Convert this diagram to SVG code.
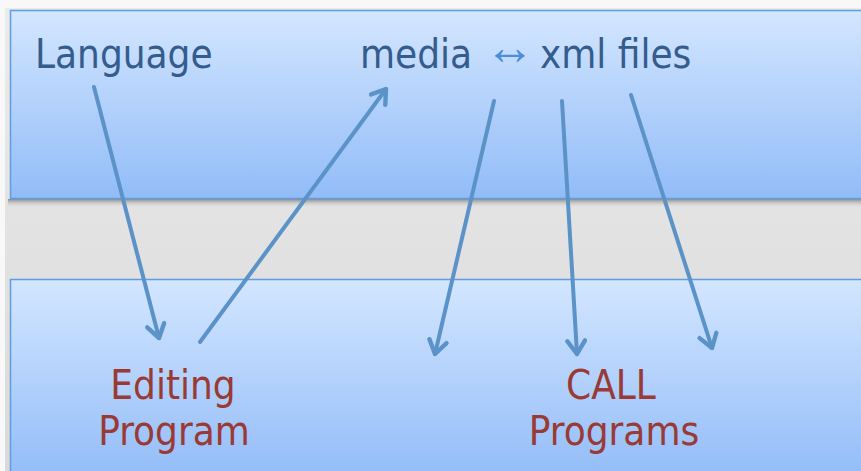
<svg xmlns="http://www.w3.org/2000/svg" width="861" height="471" viewBox="0 0 861 471">
<defs>
<linearGradient id="box" x1="0" y1="0" x2="0" y2="1">
<stop offset="0" stop-color="#d3e6ff"/>
<stop offset="1" stop-color="#92bcf8"/>
</linearGradient>
<linearGradient id="band" x1="0" y1="0" x2="0" y2="1">
<stop offset="0" stop-color="#ebebeb"/>
<stop offset="1" stop-color="#d9d9d9"/>
</linearGradient>
<linearGradient id="shadow" x1="0" y1="0" x2="0" y2="1">
<stop offset="0" stop-color="#8a8a8a"/>
<stop offset="1" stop-color="#e6e6e6" stop-opacity="0"/>
</linearGradient>
<marker id="ah" viewBox="0 0 20 20" refX="16" refY="10" markerWidth="5.5" markerHeight="5.5" orient="auto" markerUnits="strokeWidth">
<path d="M4,2 L16,10 L4,18" fill="none" stroke="#5b93c8" stroke-width="4" stroke-linecap="round" stroke-linejoin="round"/>
</marker>
</defs>
<style>
.box{fill:url(#box);stroke:#5d9de2;stroke-width:1.5}
.t1{font-family:"DejaVu Sans Condensed","DejaVu Sans",sans-serif;font-size:40px;fill:#345c8c}
.t2{font-family:"DejaVu Sans Condensed","DejaVu Sans",sans-serif;font-size:40px;fill:#9a3a34;text-anchor:middle}
.conn{stroke:#5b93c8;stroke-width:4;fill:none;stroke-linecap:round;marker-end:url(#ah)}
</style>
<rect x="0" y="0" width="861" height="471" fill="#f8f8f8"/>
<rect x="5" y="8" width="856" height="463" fill="url(#band)"/>
<rect x="8" y="199" width="853" height="9" fill="url(#shadow)"/>
<g id="top-panel">
<rect class="box" x="10.5" y="10.5" width="860" height="188"/>
</g>
<g id="bottom-panel">
<rect class="box" x="10.5" y="279.5" width="860" height="200"/>
</g>
<g id="language">
<text class="t1" x="35" y="68">Language</text>
</g>
<g id="media-xml">
<text class="t1" x="360" y="68">media</text>
<text x="485" y="64" font-family="Liberation Sans,sans-serif" font-size="50" fill="#4a8fd8">↔</text>
<text class="t1" x="540" y="68">xml files</text>
</g>
<g id="editing-program">
<text class="t2" x="173" y="399">Editing</text>
<text class="t2" x="174" y="445">Program</text>
</g>
<g id="call-programs">
<text class="t2" x="611" y="399">CALL</text>
<text class="t2" x="614" y="445">Programs</text>
</g>
<g id="connectors">
<line class="conn" x1="94" y1="87" x2="159" y2="338"/>
<line class="conn" x1="200" y1="342" x2="386" y2="89"/>
<line class="conn" x1="494" y1="101" x2="435" y2="354"/>
<line class="conn" x1="562" y1="101" x2="577" y2="354"/>
<line class="conn" x1="631" y1="95" x2="712" y2="348"/>
</g>
</svg>
